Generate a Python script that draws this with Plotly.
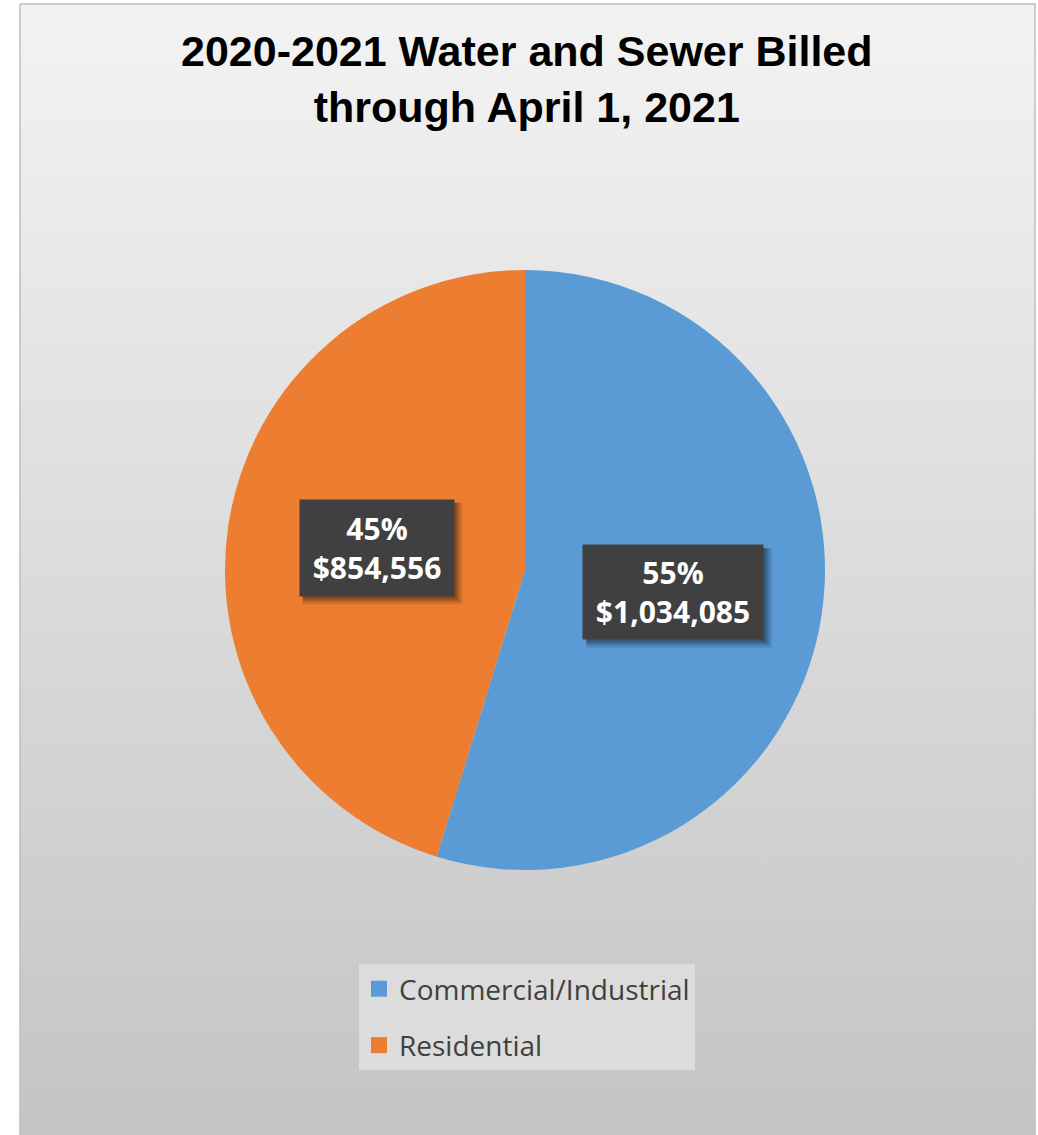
import math
import plotly.graph_objects as go

# Billing totals by customer class
categories = ["Commercial/Industrial", "Residential"]
billed = [1034085, 854556]
colors = ["#5B9BD5", "#ED7D31"]
title_lines = ["2020-2021 Water and Sewer Billed", "through April 1, 2021"]

W, H = 1038, 1135
# pie placement in pixels
cx, cy, r = 525, 570, 300

fig = go.Figure()

# chart-area background: vertical grey gradient with thin border
fig.add_trace(go.Scatter(
    x=[20, 1035, 1035, 20, 20], y=[4, 4, 1140, 1140, 4],
    mode="lines", line=dict(color="#bfbfbf", width=1.5),
    fill="toself",
    fillgradient=dict(type="vertical", start=4, stop=1135,
                      colorscale=[[0, "#f3f3f3"], [1, "#c4c4c4"]]),
    hoverinfo="skip", showlegend=False,
))

fig.add_trace(go.Pie(
    labels=categories, values=billed, sort=False, direction="clockwise",
    rotation=0, marker=dict(colors=colors, line=dict(width=0)),
    textinfo="none", showlegend=False, hoverinfo="label+value+percent",
    domain=dict(x=[(cx - r) / W, (cx + r) / W], y=[1 - (cy + r) / H, 1 - (cy - r) / H]),
))

# legend entries
for i, (name, col) in enumerate(zip(categories, colors)):
    fig.add_trace(go.Scatter(
        x=[None], y=[None], mode="markers", name=name, legendgroup=f"g{i}",
        marker=dict(symbol="square", size=16, color=col),
    ))

# data labels: dark boxes at half radius along each slice's mid-angle
total = sum(billed)
start = 0.0
annotations = []
shapes = []
box_sizes = [(176, 90), (150, 92)]
pad = 2
for val, (bw, bh) in zip(billed, box_sizes):
    frac = val / total
    mid = (start + frac / 2) * 2 * math.pi
    start += frac
    px = cx + 0.5 * r * math.sin(mid)
    py = cy - 0.5 * r * math.cos(mid)
    hw, hh = bw / 2 + pad, bh / 2 + pad
    # soft drop shadow, built from a few stacked translucent rectangles
    for off, grow, alpha in [(6, 3, 0.08), (5, 2, 0.10), (4, 1, 0.14), (3, 0, 0.18)]:
        shapes.append(dict(
            type="rect", xref="x", yref="y", layer="above", line=dict(width=0),
            x0=px - hw + off - grow, x1=px + hw + off + grow,
            y0=py - hh + off - grow, y1=py + hh + off + grow,
            fillcolor=f"rgba(0,0,0,{alpha})",
        ))
    annotations.append(dict(
        x=px / W, y=1 - py / H, xref="paper", yref="paper",
        text=f"<b>{frac:.0%}</b><br><b>${val:,.0f}</b>", showarrow=False,
        width=bw, height=bh, borderpad=pad, bgcolor="#404040",
        font=dict(family="Open Sans", color="white", size=30),
    ))

annotations.append(dict(
    x=527 / W, y=1 - 25 / H, xref="paper", yref="paper", yanchor="top",
    text="<b>" + "<br>".join(title_lines) + "</b>", showarrow=False,
    font=dict(family="Liberation Sans", size=43, color="black"),
))

fig.update_layout(
    width=W, height=H, margin=dict(l=0, r=0, t=0, b=0),
    paper_bgcolor="white", plot_bgcolor="rgba(0,0,0,0)",
    xaxis=dict(range=[0, W], visible=False, domain=[0, 1], fixedrange=True),
    yaxis=dict(range=[H, 0], visible=False, domain=[0, 1], fixedrange=True),
    annotations=annotations,
    shapes=shapes,
    legend=dict(
        x=359 / W, y=1 - 964 / H, xanchor="left", yanchor="top",
        bgcolor="#dcdcdc", font=dict(family="Open Sans", size=28, color="#404040"),
        tracegroupgap=17, itemsizing="trace",
    ),
    showlegend=True,
)

fig.write_html("out.html")
